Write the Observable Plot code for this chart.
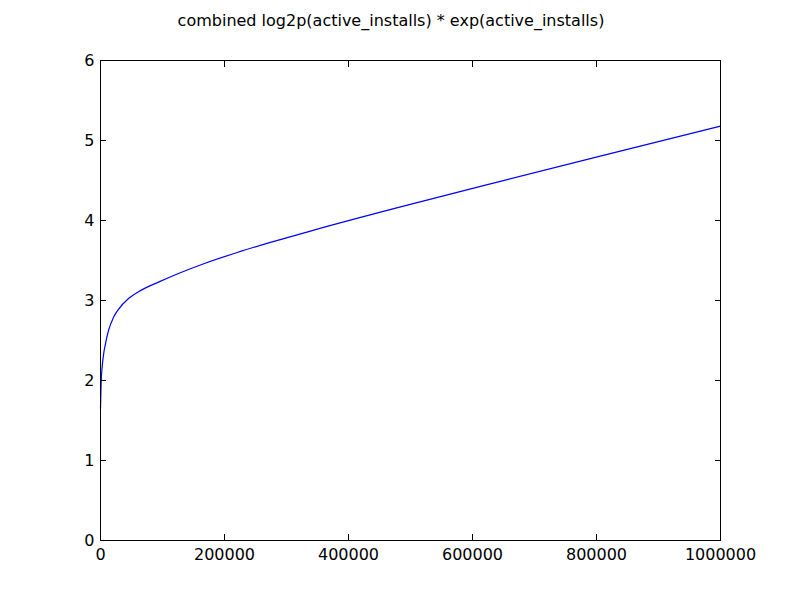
<!DOCTYPE html>
<html>
<head>
<meta charset="utf-8">
<script src="https://cdn.jsdelivr.net/npm/d3@7"></script>
<script src="https://cdn.jsdelivr.net/npm/@observablehq/plot@0.6"></script>
<style>
  html, body { margin: 0; padding: 0; background: #fff; }
  #wrap { position: relative; width: 800px; height: 600px; font-family: "DejaVu Sans", sans-serif; }
  #title { position: absolute; left: 0; width: 782px; top: 11px; text-align: center; font-size: 16px; color: #000; line-height: 20px; }
</style>
</head>
<body>
<div id="wrap">
  <div id="chart"></div>
  <div id="title">combined log2p(active_installs) * exp(active_installs)</div>
</div>
<script>
// Data
const activeInstalls = [0, 1000, 2700, 5400, 7500, 12900, 21000, 29000, 45200, 61300, 93500, 124700, 166600, 220500, 274000, 344000, 484000, 645000, 806000, 1000000];
const combinedScore  = [1.65, 1.97, 2.17, 2.35, 2.44, 2.625, 2.79, 2.89, 3.025, 3.11, 3.23, 3.335, 3.46, 3.60, 3.726, 3.88, 4.17, 4.49, 4.805, 5.18];
const xTicks = [0, 200000, 400000, 600000, 800000, 1000000];
const yTicks = [0, 1, 2, 3, 4, 5, 6];

const data = activeInstalls.map((x, i) => ({x, y: combinedScore[i]}));

const chart = Plot.plot({
  width: 800,
  height: 600,
  marginLeft: 100,
  marginRight: 80,
  marginTop: 60,
  marginBottom: 60,
  style: {fontFamily: "'DejaVu Sans', sans-serif", fontSize: "16px", color: "#000", background: "#fff"},
  x: {domain: [0, 1000000], label: null},
  y: {domain: [0, 6], label: null},
  marks: [
    Plot.line(data, {x: "x", y: "y", stroke: "#0000ff", strokeWidth: 1.2, curve: "monotone-x"}),
    Plot.axisX(xTicks, {anchor: "bottom", tickSize: -6, tickPadding: 14, tickFormat: d => String(d), stroke: "#000", fill: "#000", fontSize: 16}),
    Plot.axisX(xTicks, {anchor: "top", tickSize: -6, tickFormat: () => "", stroke: "#000"}),
    Plot.axisY(yTicks, {anchor: "left", tickSize: -6, tickPadding: 12, tickFormat: d => String(d), stroke: "#000", fill: "#000", fontSize: 16}),
    Plot.axisY(yTicks, {anchor: "right", tickSize: -6, tickFormat: () => "", stroke: "#000"}),
    Plot.frame({stroke: "#000", strokeWidth: 1})
  ]
});
document.getElementById("chart").appendChild(chart);
</script>
</body>
</html>
